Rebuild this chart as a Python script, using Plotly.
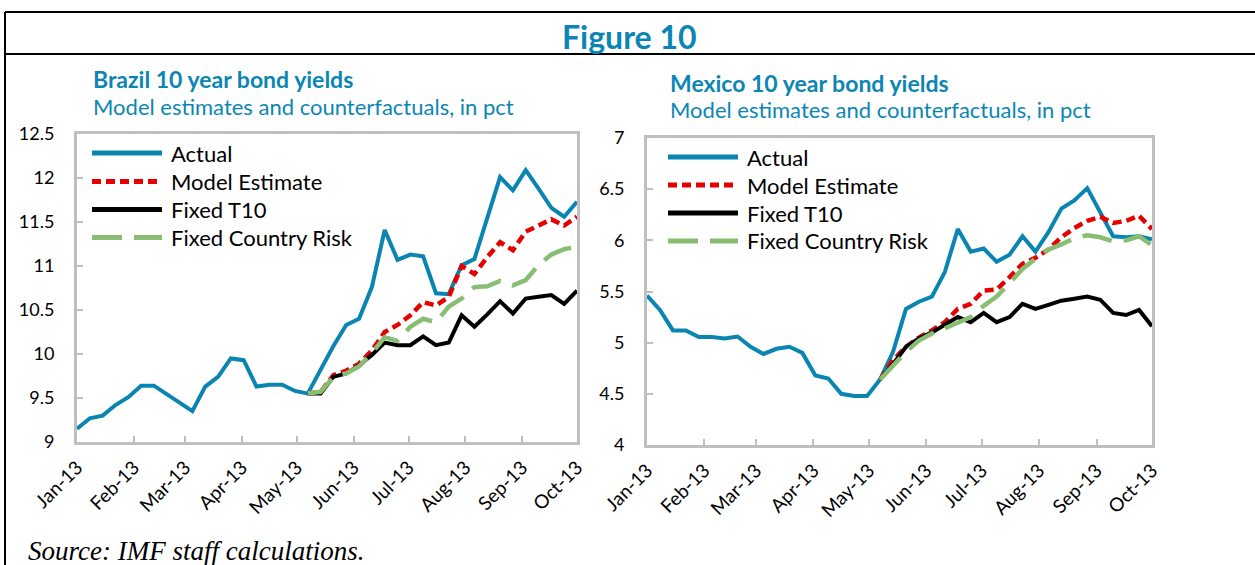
import pandas as pd
import plotly.graph_objects as go
from plotly.subplots import make_subplots

W, H = 1255, 565

# ---- data -------------------------------------------------------------
dates = pd.date_range("2013-01-01", periods=40, freq="7D")
month_ticks = ["2013-01-01", "2013-02-01", "2013-03-01", "2013-04-01", "2013-05-01",
               "2013-06-01", "2013-07-01", "2013-08-01", "2013-09-01", "2013-10-01"]
month_labels = ["Jan-13", "Feb-13", "Mar-13", "Apr-13", "May-13",
                "Jun-13", "Jul-13", "Aug-13", "Sep-13", "Oct-13"]
series_names = ["Actual", "Model Estimate", "Fixed T10", "Fixed Country Risk"]

brazil_actual = [9.15, 9.27, 9.30, 9.42, 9.51, 9.64, 9.64, 9.54, 9.44, 9.35,
                 9.63, 9.74, 9.95, 9.93, 9.63, 9.65, 9.65, 9.58, 9.55, 9.82,
                 10.09, 10.33, 10.40, 10.76, 11.41, 11.07, 11.13, 11.11, 10.69, 10.68,
                 11.01, 11.08, 11.55, 12.01, 11.86, 12.09, 11.88, 11.66, 11.56, 11.73]
brazil_model = [None] * 18 + [9.55, 9.57, 9.76, 9.81, 9.89, 10.04, 10.25, 10.33, 10.44, 10.59,
                              10.55, 10.65, 11.00, 10.91, 11.10, 11.27, 11.18, 11.39, 11.46, 11.53,
                              11.46, 11.56]
brazil_t10 = [None] * 18 + [9.55, 9.55, 9.74, 9.78, 9.87, 9.99, 10.13, 10.10, 10.10, 10.20,
                            10.10, 10.13, 10.44, 10.31, 10.45, 10.60, 10.46, 10.63, 10.65, 10.67,
                            10.57, 10.72]
brazil_cr = [None] * 18 + [9.55, 9.57, 9.74, 9.78, 9.86, 10.01, 10.19, 10.15, 10.31, 10.40,
                           10.36, 10.54, 10.63, 10.76, 10.77, 10.83, 10.78, 10.84, 11.01, 11.13,
                           11.19, 11.22]

mexico_actual = [5.46, 5.32, 5.12, 5.12, 5.055, 5.055, 5.04, 5.06, 4.96, 4.89,
                 4.94, 4.96, 4.90, 4.68, 4.65, 4.50, 4.48, 4.48, 4.64, 4.91,
                 5.33, 5.40, 5.45, 5.69, 6.11, 5.89, 5.92, 5.79, 5.86, 6.04,
                 5.89, 6.08, 6.31, 6.39, 6.51, 6.28, 6.04, 6.03, 6.04, 6.01]
mexico_model = [None] * 18 + [4.64, 4.83, 4.96, 5.05, 5.12, 5.20, 5.33, 5.38, 5.51, 5.52,
                              5.64, 5.77, 5.83, 5.91, 6.03, 6.12, 6.19, 6.23, 6.17, 6.19,
                              6.24, 6.11]
mexico_t10 = [None] * 18 + [4.64, 4.79, 4.96, 5.04, 5.10, 5.17, 5.25, 5.20, 5.29, 5.20,
                            5.25, 5.38, 5.33, 5.37, 5.41, 5.43, 5.45, 5.42, 5.29, 5.27,
                            5.32, 5.16]
mexico_cr = [None] * 18 + [4.64, 4.78, 4.91, 5.02, 5.09, 5.14, 5.19, 5.25, 5.36, 5.45,
                           5.58, 5.72, 5.82, 5.91, 5.96, 6.02, 6.05, 6.03, 5.99, 6.00,
                           6.04, 5.95]

# ---- styles -----------------------------------------------------------
BLUE = "#0a85b2"
RED = "#e60000"
GREEN = "#88bd74"
BLACK = "#000000"
GRID = "#bfbfbf"
TITLE_C = "#0b86b4"
FONT = "Lato"

styles = [
    dict(color=BLUE, width=4),
    dict(color=RED, width=4.5, dash="9px,5px"),
    dict(color=BLACK, width=4),
    dict(color=GREEN, width=4.5, dash="30px,12px"),
]

fig = make_subplots(rows=1, cols=2)

for col, vals in [(1, [brazil_actual, brazil_model, brazil_t10, brazil_cr]),
                  (2, [mexico_actual, mexico_model, mexico_t10, mexico_cr])]:
    for name, v, st in zip(series_names, vals, styles):
        fig.add_trace(go.Scatter(x=dates, y=v, mode="lines", name=name, line=st,
                                 showlegend=False, connectgaps=False), row=1, col=col)


def px_x(x):
    return x / W


def px_y(y):
    return 1 - y / H


xcommon = dict(type="date", range=["2013-01-01", "2013-10-01"], tickvals=month_ticks,
               ticktext=month_labels, tickangle=-45, ticks="inside", ticklen=6,
               tickwidth=2, tickcolor=GRID, showline=True, mirror=True, linecolor=GRID,
               linewidth=3, showgrid=False, zeroline=False, automargin=False,
               ticklabelstandoff=4,
               tickfont=dict(family=FONT, size=19, color="#000"))
ycommon = dict(dtick=0.5, ticks="inside", ticklen=6, tickwidth=2, tickcolor=GRID,
               showline=True, mirror=True, linecolor=GRID, linewidth=3, showgrid=False,
               zeroline=False, automargin=False,
               tickfont=dict(family=FONT, size=18, color="#000"),
               ticklabelstandoff=16)

fig.update_xaxes(**xcommon)
fig.update_yaxes(**ycommon)
fig.update_layout(
    xaxis=dict(domain=[px_x(77), px_x(577)]),
    yaxis=dict(domain=[px_y(442), px_y(134)], range=[9, 12.5]),
    xaxis2=dict(domain=[px_x(647), px_x(1152)]),
    yaxis2=dict(domain=[px_y(445), px_y(138)], range=[4, 7]),
)

# frame lines
shapes = [
    dict(type="line", xref="paper", yref="paper", x0=px_x(5), x1=1.0, y0=px_y(12), y1=px_y(12),
         line=dict(color="#000", width=2)),
    dict(type="line", xref="paper", yref="paper", x0=px_x(5), x1=1.0, y0=px_y(54), y1=px_y(54),
         line=dict(color="#000", width=2)),
    dict(type="line", xref="paper", yref="paper", x0=px_x(5), x1=px_x(5), y0=px_y(12), y1=0,
         line=dict(color="#000", width=2)),
]

annotations = [
    dict(text="<b>Figure 10</b>", x=px_x(629), y=px_y(36), xref="paper", yref="paper",
         xanchor="center", yanchor="middle", showarrow=False,
         font=dict(family=FONT, size=32, color=TITLE_C)),
    dict(text="<b>Brazil 10 year bond yields</b>", x=px_x(91), y=px_y(79), xref="paper",
         yref="paper", xanchor="left", yanchor="middle", showarrow=False,
         font=dict(family=FONT, size=23, color=TITLE_C)),
    dict(text="Model estimates and counterfactuals, in pct", x=px_x(91), y=px_y(106),
         xref="paper", yref="paper", xanchor="left", yanchor="middle", showarrow=False,
         font=dict(family=FONT, size=22, color=TITLE_C)),
    dict(text="<b>Mexico 10 year bond yields</b>", x=px_x(668), y=px_y(83), xref="paper",
         yref="paper", xanchor="left", yanchor="middle", showarrow=False,
         font=dict(family=FONT, size=23, color=TITLE_C)),
    dict(text="Model estimates and counterfactuals, in pct", x=px_x(668), y=px_y(110),
         xref="paper", yref="paper", xanchor="left", yanchor="middle", showarrow=False,
         font=dict(family=FONT, size=22, color=TITLE_C)),
    dict(text="<i>Source: IMF staff calculations.</i>", x=px_x(26), y=px_y(551),
         xref="paper", yref="paper", xanchor="left", yanchor="middle", showarrow=False,
         font=dict(family="Liberation Serif", size=27, color="#000")),
]

# manual legends (sample line + label) for each panel
legend_rows = {1: (92, [153, 181.5, 209.5, 237.5]), 2: (668, [157, 185, 213, 241])}
for panel, (lx, rows) in legend_rows.items():
    for name, st, ry in zip(series_names, styles, rows):
        shapes.append(dict(type="line", xref="paper", yref="paper",
                           x0=px_x(lx), x1=px_x(lx + 70), y0=px_y(ry), y1=px_y(ry),
                           line=dict(color=st["color"], width=5, dash=st.get("dash", "solid"))))
        annotations.append(dict(text=name, x=px_x(lx + 77), y=px_y(ry), xref="paper",
                                yref="paper", xanchor="left", yanchor="middle",
                                showarrow=False,
                                font=dict(family=FONT, size=22, color="#000")))

fig.update_layout(
    width=W, height=H, margin=dict(l=0, r=0, t=0, b=0, autoexpand=False),
    paper_bgcolor="white", plot_bgcolor="white",
    shapes=shapes, annotations=annotations, showlegend=False,
    font=dict(family=FONT),
)

fig.write_html("out.html", config={"displayModeBar": False},
               post_script="document.body.style.margin='0';document.body.style.padding='0';"
                           "document.body.style.overflow='hidden';")
